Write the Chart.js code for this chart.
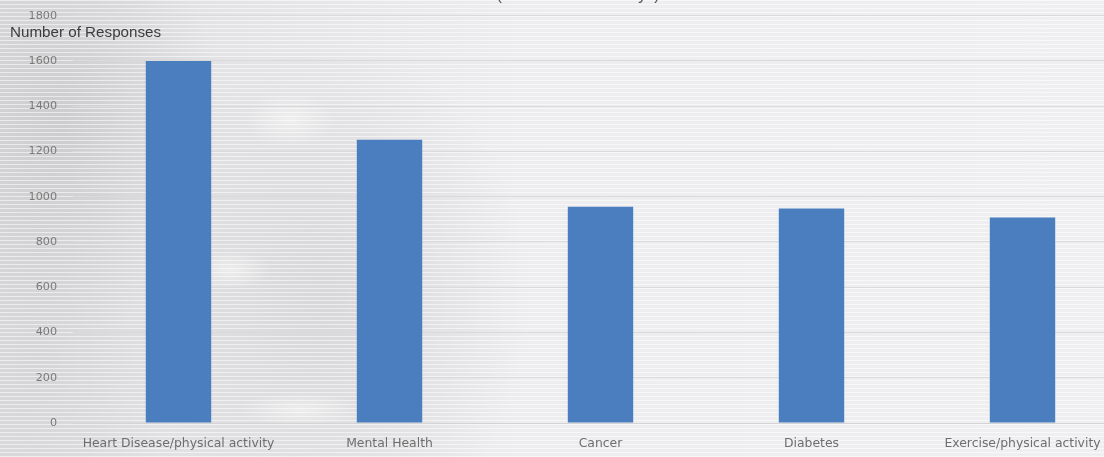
<!DOCTYPE html>
<html>
<head>
<meta charset="utf-8">
<script src="https://cdn.jsdelivr.net/npm/chart.js@4.4.0/dist/chart.umd.min.js"></script>
<style>
    html, body {
        margin: 0;
        padding: 0;
        width: 1104px;
        height: 457px;
        overflow: hidden;
    }
    body {
        position: relative;
        background-color: #ebebed;
        background-image:
            repeating-linear-gradient(180deg, rgba(255,255,255,0.55) 0px, rgba(255,255,255,0.55) 1px, rgba(0,0,0,0) 1px, rgba(0,0,0,0) 4px),
            radial-gradient(ellipse 45px 28px at 290px 120px, rgba(248,248,248,0.6), rgba(248,248,248,0)),
            radial-gradient(ellipse 40px 20px at 230px 270px, rgba(248,248,248,0.6), rgba(248,248,248,0)),
            radial-gradient(ellipse 60px 18px at 300px 410px, rgba(248,248,248,0.6), rgba(248,248,248,0)),
            radial-gradient(ellipse 160px 220px at 60px 120px, rgba(190,190,192,0.55), rgba(190,190,192,0)),
            radial-gradient(ellipse 200px 260px at 330px 300px, rgba(200,200,202,0.5), rgba(200,200,202,0)),
            radial-gradient(ellipse 140px 200px at 40px 360px, rgba(205,205,207,0.5), rgba(205,205,207,0)),
            linear-gradient(90deg, #dcdcde 0px, #e6e6e8 300px, #ededef 520px, #efeff1 1104px);
    }
    #wrap {
        position: absolute;
        left: 0;
        top: -7px;
        width: 1135px;
        height: 465px;
    }
</style>
</head>
<body>
<div id="wrap"><canvas id="chart"></canvas></div>
<script>
    'use strict';

    // ============================================
    // Data
    // ============================================

    const categories = [
        'Heart Disease/physical activity',
        'Mental Health',
        'Cancer',
        'Diabetes',
        'Exercise/physical activity'
    ];
    const responses = [1600, 1252, 956, 948, 908];
    const yTicks = [0, 200, 400, 600, 800, 1000, 1200, 1400, 1600, 1800];

    const titleText = '(n= 3002 total surveys)';
    const axisTitleText = 'Number of Responses';

    // ============================================
    // Extra text drawn on the canvas
    // ============================================

    const textPlugin = {
        id: 'extraText',
        afterDraw(chart) {
            const ctx = chart.ctx;
            ctx.save();
            ctx.fillStyle = '#3c3c3c';
            ctx.textBaseline = 'middle';
            ctx.font = '15.2px "Liberation Sans", Arial, sans-serif';
            ctx.textAlign = 'left';
            // canvas is shifted up by 7px
            ctx.fillText(axisTitleText, 10, 40);

            ctx.fillStyle = '#555555';
            ctx.font = '16px "Liberation Sans", Arial, sans-serif';
            ctx.textAlign = 'center';
            ctx.fillText(titleText, 578, 3);
            ctx.restore();
        }
    };

    const ctx = document.getElementById('chart').getContext('2d');

    new Chart(ctx, {
        type: 'bar',
        data: {
            labels: categories,
            datasets: [{
                data: responses,
                backgroundColor: '#4a7ebf',
                borderWidth: 0,
                categoryPercentage: 1,
                barPercentage: 0.31
            }]
        },
        options: {
            responsive: true,
            maintainAspectRatio: false,
            animation: false,
            devicePixelRatio: 1,
            layout: {
                padding: { top: 10, right: 7, bottom: 0, left: 0 }
            },
            plugins: {
                legend: { display: false },
                tooltip: { enabled: false }
            },
            scales: {
                x: {
                    grid: { display: false },
                    border: { display: true, color: '#d4d4d4' },
                    ticks: {
                        color: '#6e6e6e',
                        font: { family: '"DejaVu Sans", sans-serif', size: 12.4 },
                        padding: 5,
                        maxRotation: 0,
                        autoSkip: false
                    },
                    afterFit(scale) {
                        scale.height = 35;
                    }
                },
                y: {
                    min: 0,
                    max: 1800,
                    afterBuildTicks(scale) {
                        scale.ticks = yTicks.map(v => ({ value: v }));
                    },
                    grid: {
                        color: '#dadadc',
                        lineWidth: 1,
                        drawTicks: false
                    },
                    border: { display: false },
                    ticks: {
                        color: '#7a7a7a',
                        font: { family: '"DejaVu Sans", sans-serif', size: 11.2 },
                        padding: 16,
                        callback: v => String(v)
                    },
                    afterFit(scale) {
                        scale.width = 73;
                    }
                }
            }
        },
        plugins: [textPlugin]
    });
</script>
</body>
</html>
